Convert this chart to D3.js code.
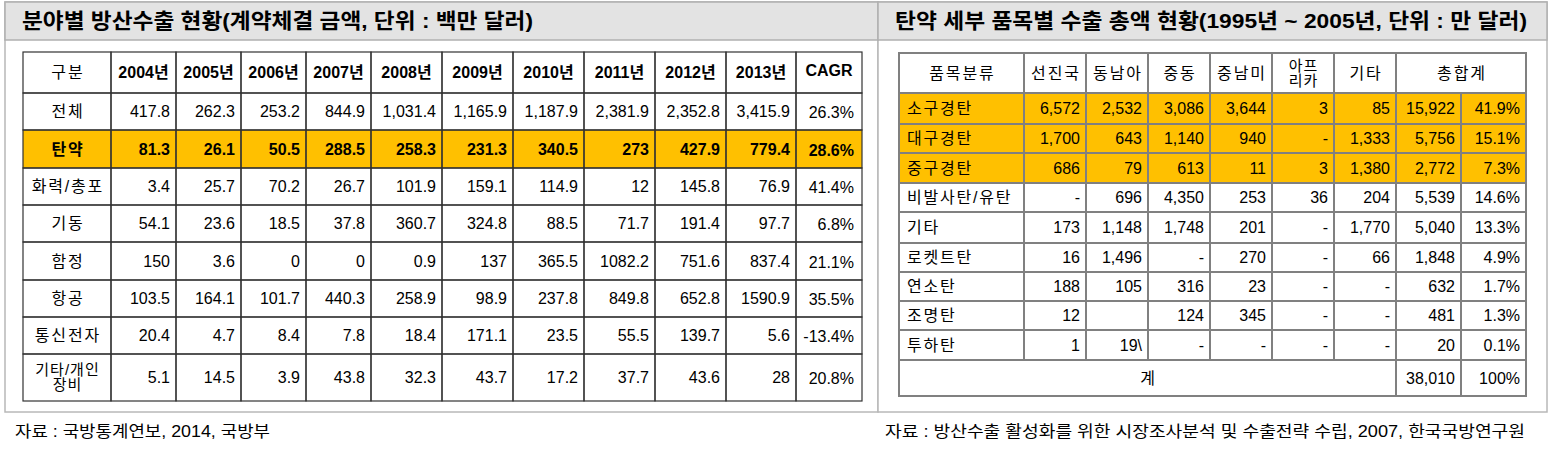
<!DOCTYPE html>
<html><head><meta charset="utf-8">
<script src="https://cdn.jsdelivr.net/npm/d3@7"></script>
<style>
body{margin:0;background:#fff}
svg{display:block}
text{font-family:"Liberation Sans","Noto Sans CJK KR",Arial,sans-serif;fill:#000}
</style>
</head><body>
<script>
// ---------------- DATA ----------------
const leftTitle = "분야별 방산수출 현황(계약체결 금액, 단위 : 백만 달러)";
const rightTitle = "탄약 세부 품목별 수출 총액 현황(1995년 ~ 2005년, 단위 : 만 달러)";
const leftSource = "자료 : 국방통계연보, 2014, 국방부";
const rightSource = "자료 : 방산수출 활성화를 위한 시장조사분석 및 수출전략 수립, 2007, 한국국방연구원";

const leftHeadCorner = "구분";
const years = ["2004년","2005년","2006년","2007년","2008년","2009년","2010년","2011년","2012년","2013년"];
const cagrHead = "CAGR";
const sectors = ["전체","탄약","화력/총포","기동","함정","항공","통신전자","기타/개인\n장비"];
const vTotal    = ["417.8","262.3","253.2","844.9","1,031.4","1,165.9","1,187.9","2,381.9","2,352.8","3,415.9"];
const vAmmo     = ["81.3","26.1","50.5","288.5","258.3","231.3","340.5","273","427.9","779.4"];
const vFire     = ["3.4","25.7","70.2","26.7","101.9","159.1","114.9","12","145.8","76.9"];
const vMobility = ["54.1","23.6","18.5","37.8","360.7","324.8","88.5","71.7","191.4","97.7"];
const vNaval    = ["150","3.6","0","0","0.9","137","365.5","1082.2","751.6","837.4"];
const vAir      = ["103.5","164.1","101.7","440.3","258.9","98.9","237.8","849.8","652.8","1590.9"];
const vComm     = ["20.4","4.7","8.4","7.8","18.4","171.1","23.5","55.5","139.7","5.6"];
const vEtc      = ["5.1","14.5","3.9","43.8","32.3","43.7","17.2","37.7","43.6","28"];
const cagr = ["26.3%","28.6%","41.4%","6.8%","21.1%","35.5%","-13.4%","20.8%"];
const highlightSector = "탄약";

const rightHeads = ["품목분류","선진국","동남아","중동","중남미","아프\n리카","기타","총합계"];
const items = ["소구경탄","대구경탄","중구경탄","비발사탄/유탄","기타","로켓트탄","연소탄","조명탄","투하탄"];
const rAdvanced = ["6,572","1,700","686","-","173","16","188","12","1"];
const rSEAsia   = ["2,532","643","79","696","1,148","1,496","105","","19\\"];
const rMideast  = ["3,086","1,140","613","4,350","1,748","-","316","124","-"];
const rLatAm    = ["3,644","940","11","253","201","270","23","345","-"];
const rAfrica   = ["3","-","3","36","-","-","-","-","-"];
const rOther    = ["85","1,333","1,380","204","1,770","66","-","-","-"];
const rSum      = ["15,922","5,756","2,772","5,539","5,040","1,848","632","481","20"];
const rShare    = ["41.9%","15.1%","7.3%","14.6%","13.3%","4.9%","1.7%","1.3%","0.1%"];
const totalLabel = "계";
const totalSum = "38,010";
const totalShare = "100%";
const highlightItems = ["소구경탄","대구경탄","중구경탄"];

// ---------------- LAYOUT ----------------
const W = 1562, H = 452;
const YEL = "#FFC000";
const svg = d3.select("body").append("svg").attr("width", W).attr("height", H);

// panels
const panels = [
  {x0:5, x1:878, title:leftTitle, tx:22, tw:511},
  {x0:878, x1:1547, title:rightTitle, tx:895, tw:632}
];
const pg = svg.append("g");
pg.selectAll("rect.panel").data(panels).join("rect").attr("class","panel")
  .attr("x", d=>d.x0).attr("y", 2).attr("width", d=>d.x1-d.x0).attr("height", 410)
  .attr("fill","#fff").attr("stroke","#b8b8b8").attr("stroke-width",1.5);
pg.selectAll("rect.bar").data(panels).join("rect").attr("class","bar")
  .attr("x", d=>d.x0).attr("y", 2).attr("width", d=>d.x1-d.x0).attr("height", 38)
  .attr("fill","#e3e3e3").attr("stroke","#b0b0b0").attr("stroke-width",1.5);
pg.selectAll("text.title").data(panels).join("text").attr("class","title")
  .attr("x", d=>d.tx).attr("y", 21).attr("dy","0.35em")
  .attr("font-size", 21).attr("font-weight","bold")
  .attr("textLength", d=>d.tw).attr("lengthAdjust","spacingAndGlyphs")
  .text(d=>d.title);

// footers
svg.selectAll("text.src").data([{x:15,t:leftSource,w:255},{x:885,t:rightSource,w:640}]).join("text")
  .attr("class","src").attr("x", d=>d.x).attr("y", 431).attr("dy","0.35em")
  .attr("font-size", 16).attr("textLength", d=>d.w).attr("lengthAdjust","spacingAndGlyphs")
  .text(d=>d.t);

function edges(origin, sizes){ return [origin, ...Array.from(d3.cumsum(sizes), v=>origin+v)]; }

function drawTable(g, cells, xs, ys, stroke, sw){
  const x = d3.scaleOrdinal().domain(d3.range(xs.length)).range(xs);
  const y = d3.scaleOrdinal().domain(d3.range(ys.length)).range(ys);
  g.selectAll("rect.cell").data(cells).join("rect").attr("class","cell")
    .attr("x", d=>x(d.c0)).attr("y", d=>y(d.r0))
    .attr("width", d=>x(d.c1)-x(d.c0)).attr("height", d=>y(d.r1)-y(d.r0))
    .attr("fill", d=>d.fill||"#fff");
  g.selectAll("rect.border").data(cells).join("rect").attr("class","border")
    .attr("x", d=>x(d.c0)).attr("y", d=>y(d.r0))
    .attr("width", d=>x(d.c1)-x(d.c0)).attr("height", d=>y(d.r1)-y(d.r0))
    .attr("fill","none").attr("stroke", stroke).attr("stroke-width", sw);
  const tg = g.selectAll("g.txt").data(cells.filter(d=>d.text!=="")).join("g").attr("class","txt");
  tg.each(function(d){
    const lines = d.text.split("\n");
    const ls = d.ls || 0;
    const cx = d.align==="left" ? x(d.c0)+d.pad : d.align==="right" ? x(d.c1)-d.pad : (x(d.c0)+x(d.c1))/2 + ls/2;
    const cy = (y(d.r0)+y(d.r1))/2 + (d.dy||0);
    const lh = d.lh || 14;
    d3.select(this).selectAll("text").data(lines).join("text")
      .attr("x", cx).attr("y", (l,i)=>cy + (i-(lines.length-1)/2)*lh).attr("dy","0.36em")
      .attr("text-anchor", d.align==="left"?"start":d.align==="right"?"end":"middle")
      .attr("font-size", d.fs||16).attr("font-weight", d.bold?"bold":"normal")
      .attr("letter-spacing", ls)
      .text(l=>l);
  });
}

// ---------------- LEFT TABLE ----------------
const lx = edges(23, [88,65,65,65,65,71,71,71,71,71,70,66]);
const ly = edges(52, [41,37,38,37,37,38,37,37,47]);
const leftRows = [vTotal, vAmmo, vFire, vMobility, vNaval, vAir, vComm, vEtc];
const lcells = [];
lcells.push({c0:0,c1:1,r0:0,r1:1,text:leftHeadCorner,align:"middle",ls:2});
years.forEach((yv,i)=>lcells.push({c0:i+1,c1:i+2,r0:0,r1:1,text:yv,align:"middle",bold:true}));
lcells.push({c0:11,c1:12,r0:0,r1:1,text:cagrHead,align:"middle",bold:true,dy:-2});
sectors.forEach((s,r)=>{
  const hl = s===highlightSector;
  const fill = hl?YEL:"#fff";
  const multi = s.includes("\n");
  lcells.push({c0:0,c1:1,r0:r+1,r1:r+2,text:s,align:"middle",bold:hl,fill,lh:15,fs:multi?15:16,ls:multi?1:1.8});
  leftRows[r].forEach((v,i)=>lcells.push({c0:i+1,c1:i+2,r0:r+1,r1:r+2,text:v,align:"right",pad:6,bold:hl,fill}));
  lcells.push({c0:11,c1:12,r0:r+1,r1:r+2,text:cagr[r],align:"right",pad:8,bold:hl,fill,dy:1});
});
drawTable(svg.append("g"), lcells, lx, ly, "#333", 1.2);

// ---------------- RIGHT TABLE ----------------
const rx = edges(899, [125,62,62,62,62,62,62,65,65]);
const ry = edges(53, [40,31,29,30,29,31,29,29,29,30,36]);
const rightCols = [rAdvanced, rSEAsia, rMideast, rLatAm, rAfrica, rOther, rSum, rShare];
const rcells = [];
rightHeads.forEach((h,i)=>{
  const multi = h.includes("\n");
  if(i<7) rcells.push({c0:i,c1:i+1,r0:0,r1:1,text:h,align:"middle",lh:15,fs:multi?15:16,ls:multi?1:1.8});
  else rcells.push({c0:7,c1:9,r0:0,r1:1,text:h,align:"middle",ls:1.8});
});
items.forEach((it,r)=>{
  const fill = highlightItems.includes(it)?YEL:"#fff";
  rcells.push({c0:0,c1:1,r0:r+1,r1:r+2,text:it,align:"left",pad:8,fill,ls:1.8});
  rightCols.forEach((col,i)=>rcells.push({c0:i+1,c1:i+2,r0:r+1,r1:r+2,text:col[r],align:"right",pad:6,fill}));
});
rcells.push({c0:0,c1:7,r0:10,r1:11,text:totalLabel,align:"middle"});
rcells.push({c0:7,c1:8,r0:10,r1:11,text:totalSum,align:"right",pad:6});
rcells.push({c0:8,c1:9,r0:10,r1:11,text:totalShare,align:"right",pad:6});
drawTable(svg.append("g"), rcells, rx, ry, "#808080", 2);
</script>
</body></html>
